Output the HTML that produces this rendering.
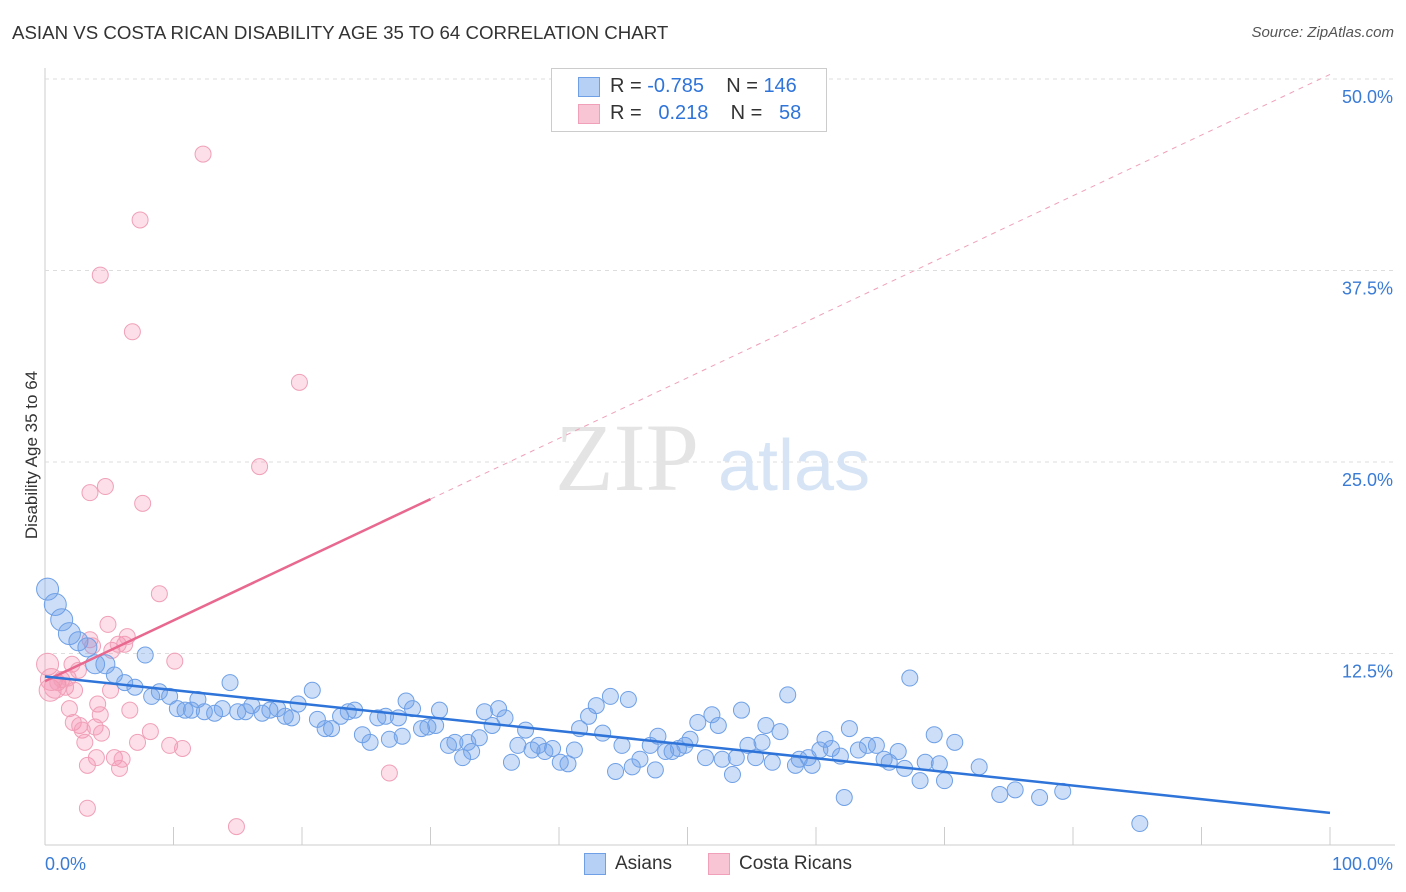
<!DOCTYPE html>
<html><head><meta charset="utf-8"><style>
body{margin:0;background:#fff;font-family:"Liberation Sans",sans-serif;}
#wrap{position:relative;width:1406px;height:892px;overflow:hidden;}
.t{position:absolute;white-space:nowrap;}
</style></head><body>
<div id="wrap">
<div class="t" style="left:12px;top:22px;font-size:18.7px;color:#333;">ASIAN VS COSTA RICAN DISABILITY AGE 35 TO 64 CORRELATION CHART</div>
<div class="t" style="right:12px;top:24px;font-size:15px;color:#555;font-style:italic;">Source: ZipAtlas.com</div>
<div class="t" style="left:-52px;top:445px;font-size:17px;color:#333;transform:rotate(-90deg);">Disability Age 35 to 64</div>
<svg id="svg" width="1406" height="892" style="position:absolute;left:0;top:0"></svg>
<div style="position:absolute;left:551px;top:68px;width:274px;height:62px;border:1px solid #ccc;background:#fff;font-size:20px;color:#333;">
 <div style="position:absolute;left:26px;top:8px;width:20px;height:18px;background:#b5cff5;border:1px solid #6fa0e6;"></div>
 <div class="t" style="left:58px;top:6px;">R = <span style="color:#2f74d9">-0.785</span>&nbsp;&nbsp;&nbsp; N = <span style="color:#2f74d9">146</span></div>
 <div style="position:absolute;left:26px;top:35px;width:20px;height:18px;background:#f8c5d4;border:1px solid #f0a0b8;"></div>
 <div class="t" style="left:58px;top:33px;">R = &nbsp;&nbsp;<span style="color:#2f74d9">0.218</span>&nbsp;&nbsp;&nbsp; N = &nbsp;&nbsp;<span style="color:#2f74d9">58</span></div>
</div>
<div>
 <div style="position:absolute;left:584px;top:853px;width:20px;height:20px;background:#b5cff5;border:1px solid #6fa0e6;"></div>
 <div class="t" style="left:615px;top:853px;font-size:19px;color:#333;">Asians</div>
 <div style="position:absolute;left:708px;top:853px;width:20px;height:20px;background:#f8c5d4;border:1px solid #f0a0b8;"></div>
 <div class="t" style="left:739px;top:853px;font-size:19px;color:#333;">Costa Ricans</div>
</div>
</div>
<script>
const blueX=[0.2,0.8,1.3,1.9,2.6,3.3,3.9,4.7,5.4,6.2,7.0,7.8,8.3,8.9,9.7,10.3,10.9,11.4,11.9,12.4,13.2,13.8,14.4,15.0,15.6,16.1,16.9,17.5,18.1,18.7,19.2,19.7,20.8,21.2,21.8,22.3,23.0,23.6,24.1,24.7,25.3,25.9,26.5,26.8,27.5,27.8,28.1,28.6,29.3,29.8,30.4,30.7,31.4,31.9,32.5,32.9,33.2,33.8,34.2,34.8,35.3,35.8,36.3,36.8,37.4,37.9,38.4,38.9,39.5,40.1,40.7,41.2,41.6,42.3,42.9,43.4,44.0,44.4,44.9,45.4,45.7,46.3,47.1,47.5,47.7,48.3,48.8,49.3,49.8,50.2,50.8,51.4,51.9,52.4,52.7,53.5,53.8,54.2,54.7,55.3,55.8,56.1,56.6,57.2,57.8,58.4,58.7,59.4,59.7,60.3,60.7,61.2,61.9,62.2,62.6,63.3,64.0,64.7,65.3,65.7,66.4,66.9,67.3,68.1,68.5,69.2,69.6,70.0,70.8,72.7,74.3,75.5,77.4,79.2,85.2];
const blueY=[16.7,15.7,14.7,13.8,13.3,12.9,11.8,11.8,11.1,10.6,10.3,12.4,9.7,10.0,9.7,8.9,8.8,8.8,9.5,8.7,8.6,8.9,10.6,8.7,8.7,9.1,8.6,8.8,8.9,8.4,8.3,9.2,10.1,8.2,7.6,7.6,8.4,8.7,8.8,7.2,6.7,8.3,8.4,6.9,8.3,7.1,9.4,8.9,7.6,7.7,7.8,8.8,6.5,6.7,5.7,6.7,6.1,7.0,8.7,7.8,8.9,8.3,5.4,6.5,7.5,6.2,6.5,6.1,6.3,5.4,5.3,6.2,7.6,8.4,9.1,7.3,9.7,4.8,6.5,9.5,5.1,5.6,6.5,4.9,7.1,6.1,6.1,6.3,6.5,6.9,8.0,5.7,8.5,7.8,5.6,4.6,5.7,8.8,6.5,5.7,6.7,7.8,5.4,7.4,9.8,5.2,5.6,5.7,5.2,6.2,6.9,6.3,5.8,3.1,7.6,6.2,6.5,6.5,5.6,5.4,6.1,5.0,10.9,4.2,5.4,7.2,5.3,4.2,6.7,5.1,3.3,3.6,3.1,3.5,1.4];
const pinkX=[0.2,0.4,0.5,0.8,1.0,1.3,1.6,1.8,1.9,2.1,2.2,2.3,2.6,2.7,2.9,3.1,3.3,3.3,3.5,3.7,3.9,4.0,4.1,4.3,4.3,4.4,4.7,4.9,5.1,5.2,5.4,5.7,5.8,6.0,6.2,6.4,6.6,6.8,7.2,7.4,7.6,8.2,8.9,9.7,10.1,10.7,12.3,14.9,16.7,19.8,26.8,3.5];
const pinkY=[11.8,10.1,10.8,10.3,10.6,10.8,10.3,10.9,8.9,11.8,8.0,10.1,11.4,7.8,7.5,6.7,5.2,2.4,13.4,13.0,7.7,5.7,9.2,37.2,8.5,7.3,23.4,14.4,10.1,12.7,5.7,13.1,5.0,5.6,13.1,13.6,8.8,33.5,6.7,40.8,22.3,7.4,16.4,6.5,12.0,6.3,45.1,1.2,24.7,30.2,4.7,23.0];
const yTicks=[12.5,25.0,37.5,50.0];
const blueTrend=[11.0,2.1];
const pinkTrend=[10.7,50.3];
const pinkSolidEnd=30;

const X0=45,X1=1330,Y0=845,PY=191.5/12.5;
const sx=v=>X0+(X1-X0)*v/100, sy=v=>Y0-v*PY;
const svg=document.getElementById('svg'),NS='http://www.w3.org/2000/svg';
function mk(t,a){const e=document.createElementNS(NS,t);for(const k in a)e.setAttribute(k,a[k]);svg.appendChild(e);return e;}
let e=mk('line',{x1:X0,y1:68,x2:X0,y2:Y0,stroke:'#ccc'});


e=mk('line',{x1:X0,y1:Y0,x2:1395,y2:Y0,stroke:'#ccc'});


for(let i=1;i<=10;i++){const x=sx(i*10);e=mk('line',{x1:x,y1:Y0,x2:x,y2:Y0-18,stroke:'#ccc'});

}
yTicks.forEach(v=>{const y=sy(v);e=mk('line',{x1:X0,y1:y,x2:1395,y2:y,stroke:'#ddd','stroke-dasharray':'4,4'});


const t=mk('text',{x:1393,y:y+24,'text-anchor':'end','font-size':18,fill:'#3a7bd5','font-family':'Liberation Sans'});t.textContent=v.toFixed(1)+'%';

});
let t=mk('text',{x:45,y:870,'font-size':18,fill:'#3a7bd5','font-family':'Liberation Sans'});t.textContent='0.0%';


t=mk('text',{x:1393,y:870,'text-anchor':'end','font-size':18,fill:'#3a7bd5','font-family':'Liberation Sans'});t.textContent='100.0%';


t=mk('text',{x:555,y:490,'font-size':96,fill:'#e4e4e4','font-family':'Liberation Serif'});t.textContent='ZIP';


t=mk('text',{x:718,y:490,'font-size':72,fill:'#d6e4f6','font-family':'Liberation Sans'});t.textContent='atlas';


pinkX.forEach((x,i)=>{const c=mk('circle',{cx:sx(x),cy:sy(pinkY[i]),r:x<1?11:8,fill:'rgba(244,150,180,0.3)',stroke:'#f0a0b8','stroke-width':1});

});
blueX.forEach((x,i)=>{const c=mk('circle',{cx:sx(x),cy:sy(blueY[i]),r:x<2?11:(x<5?9.5:8),fill:'rgba(110,160,235,0.35)',stroke:'#6fa0e6','stroke-width':1});

});
const pAt=x=>pinkTrend[0]+(pinkTrend[1]-pinkTrend[0])*x/100;
e=mk('line',{x1:sx(pinkSolidEnd),y1:sy(pAt(pinkSolidEnd)),x2:sx(100),y2:sy(pAt(100)),stroke:'#f0a0b8','stroke-width':1,'stroke-dasharray':'5,5'});


e=mk('line',{x1:sx(0),y1:sy(pAt(0)),x2:sx(pinkSolidEnd),y2:sy(pAt(pinkSolidEnd)),stroke:'#e8688f','stroke-width':2.5});


e=mk('line',{x1:sx(0),y1:sy(blueTrend[0]),x2:sx(100),y2:sy(blueTrend[1]),stroke:'#2f74d9','stroke-width':2.5});


</script>
</body></html>
